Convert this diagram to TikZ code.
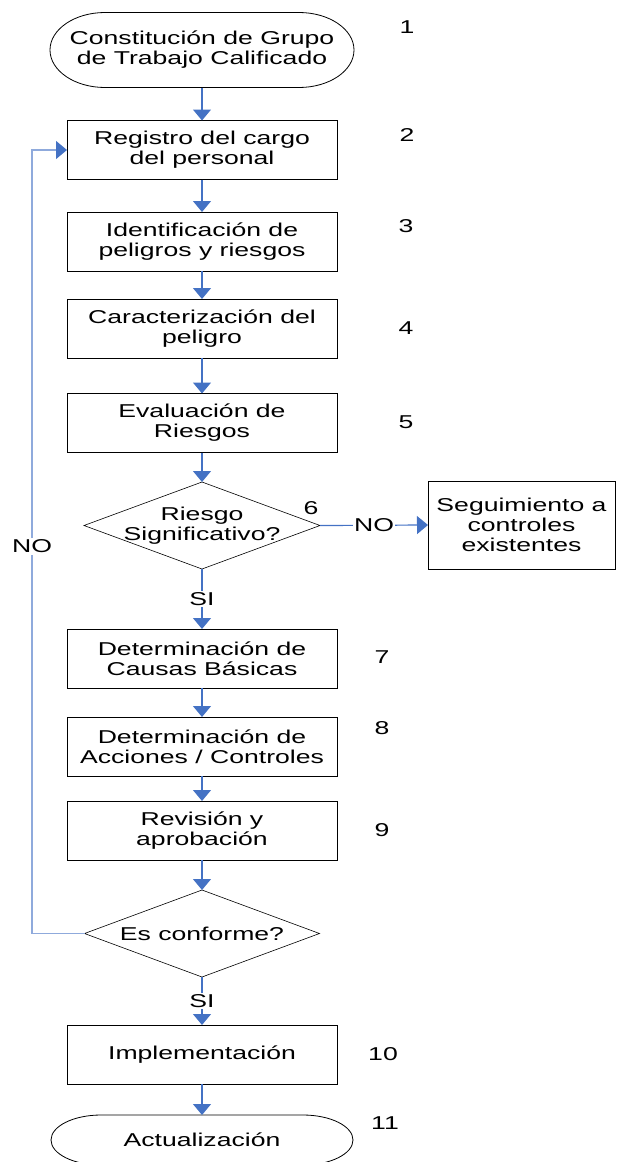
\documentclass[tikz,border=0pt]{standalone}
\usepackage{fontspec}
\setmainfont{Liberation Sans}[FakeStretch=1.43]
\usetikzlibrary{arrows.meta,shapes.geometric}
\definecolor{flowblue}{RGB}{68,114,196}
\definecolor{loopblue}{RGB}{143,170,220}
%%% stadium outline round a node: node, x radius, y radius
\newcommand\stadium[3]{%
	\draw[line width=0.8pt] ([xshift=#2]#1.north west) -- ([xshift=-#2]#1.north east)
		arc[start angle=90,end angle=-90,x radius=#2,y radius=#3]
		-- ([xshift=#2]#1.south west)
		arc[start angle=270,end angle=90,x radius=#2,y radius=#3] -- cycle;}
\tikzset{
	every node/.style={font=\fontsize{18.6pt}{20pt}\selectfont},
	proc/.style={draw,line width=0.8pt,minimum width=270pt,minimum height=59pt,align=center,inner sep=0pt,outer sep=0pt},
	term/.style={minimum width=302pt,align=center,inner sep=0pt,outer sep=0pt},
	decis/.style={draw,diamond,line width=0.6pt,minimum width=236pt,minimum height=87pt,inner sep=0pt,outer sep=0pt},
	flow/.style={draw=flowblue,line width=1.2pt,-{Triangle[width=18pt,length=11pt,color=flowblue]}},
	loopback/.style={draw=loopblue,line width=1.2pt,-{Triangle[width=18pt,length=11pt,color=flowblue]}},
	tag/.style={fill=white,inner sep=1.5pt},
	num/.style={inner sep=0pt}
}
\begin{document}
\begin{tikzpicture}[x=1pt,y=-1pt]
\useasboundingbox (0,0) rectangle (616,1162);
%%% Terminals
\node[term,minimum width=304pt,minimum height=75pt] (t1) at (202,50) {Constitución de Grupo\\de Trabajo Calificado};
\stadium{t1}{55pt}{37.5pt}
\node[term,minimum height=50pt] (t11) at (202,1140) {Actualización};
\stadium{t11}{50pt}{25pt}
%%% Process boxes
\foreach \nm/\yy/\txt in {b2/150/{Registro del cargo\\del personal},
	b3/241.5/{Identificación de\\peligros y riesgos},
	b4/328.5/{Caracterización del\\peligro},
	b5/423/{Evaluación de\\Riesgos},
	b7/658.5/{Determinación de\\Causas Básicas},
	b8/746.5/{Determinación de\\Acciones / Controles},
	b9/830.5/{Revisión y\\aprobación},
	b10/1054.5/{Implementación}}
{
	\node[proc] (\nm) at (202,\yy) {\txt};
}
\node[proc,minimum width=187pt,minimum height=88pt] (seg) at (521.5,525) {Seguimiento a\\controles\\existentes};
%%% Decisions
\node[decis,label={[name=q6,align=center]center:Riesgo\\Significativo?}] (d6) at (202,525.5) {};
\node[decis,minimum width=235pt,label={[name=q2]center:Es conforme?}] (d2) at (202,933.5) {};
%%% Step numbers
\foreach \k/\xx/\yy in {1/407/27,2/407/135,3/406/226,4/406/328,5/406/422,6/311/508,
	7/382/657,8/382/728,9/382/830,10/383/1054,11/385/1123}
{
	\node[num] (n\k) at (\xx,\yy) {\k};
}
%%% Connectors
\foreach \a/\b in {t1/b2,b2/b3,b3/b4,b4/b5,b5/d6,b7/b8,b8/b9,b9/d2,b10/t11}
{
	\draw[flow] (\a.south) -- (\b.north);
}
\draw[flow] (d6.east) -- node[tag] {NO} (seg.west);
\draw[flow] (d6.south) -- node[tag] {SI} (b7.north);
\draw[flow] (d2.south) -- node[tag] {SI} (b10.north);
\coordinate (ret) at (32,933.5);
\draw[loopback] (d2.west) -- (ret) |- node[tag,pos=0.247] {NO} (b2.west);
\end{tikzpicture}
\end{document}
